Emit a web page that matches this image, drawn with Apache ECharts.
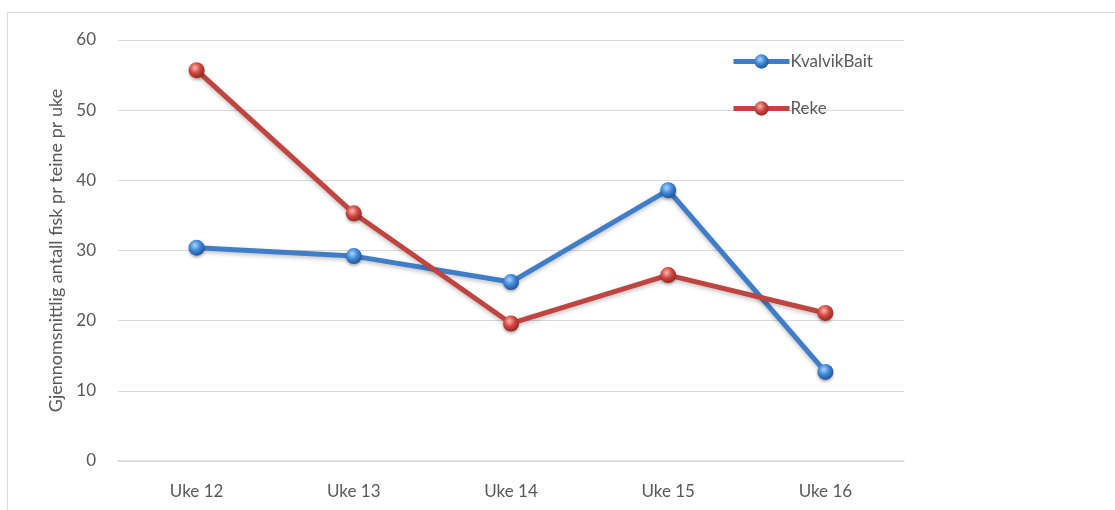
<!DOCTYPE html>
<html>
<head>
<meta charset="utf-8">
<script src="https://cdn.jsdelivr.net/npm/echarts@6/dist/echarts.min.js"></script>
<style>
  html, body { margin: 0; padding: 0; background: #fff; overflow: hidden; }
  #frame { position: absolute; left: 7px; top: 12px; width: 1200px; height: 600px; border: 1px solid #d9d9d9; }
  #chart { position: absolute; left: 0; top: 0; width: 1115px; height: 510px; }
</style>
</head>
<body>
<div id="frame"></div>
<div id="chart"></div>
<script>
var categories = ['Uke 12', 'Uke 13', 'Uke 14', 'Uke 15', 'Uke 16'];
var kvalvikBait = [30.4, 29.2, 25.5, 38.6, 12.7];
var reke = [55.7, 35.3, 19.6, 26.5, 21.1];
var yTicks = [0, 10, 20, 30, 40, 50, 60];

var fontFam = 'Lato, "Open Sans", sans-serif';

function ball(c1, c2, c3) {
    return {
        type: 'radial', x: 0.4, y: 0.35, r: 0.7,
        colorStops: [
            { offset: 0, color: c1 },
            { offset: 0.5, color: c2 },
            { offset: 1, color: c3 }
        ]
    };
}

var chartDom = document.getElementById('chart');
var myChart = echarts.init(chartDom);
var option = {
    animation: false,
    grid: { left: 118, right: 211, top: 40, bottom: 49 },
    legend: {
        orient: 'vertical',
        left: 731,
        top: 53,
        padding: 0,
        itemGap: 30,
        itemWidth: 56,
        itemHeight: 18,
        lineStyle: { width: 5 },
        textStyle: { fontFamily: fontFam, fontSize: 17, color: '#595959', padding: [0, 0, 0, -4] },
        data: ['KvalvikBait', 'Reke']
    },
    xAxis: {
        type: 'category',
        data: categories,
        boundaryGap: true,
        axisLine: { lineStyle: { color: '#d9d9d9', width: 1.5 } },
        axisTick: { show: false },
        axisLabel: { fontFamily: fontFam, fontSize: 17, color: '#595959', margin: 22 }
    },
    yAxis: {
        type: 'value',
        min: yTicks[0],
        max: yTicks[yTicks.length - 1],
        interval: 10,
        name: 'Gjennomsnittlig antall fisk pr teine pr uke',
        nameLocation: 'middle',
        nameGap: 52,
        nameRotate: 90,
        nameTextStyle: { fontFamily: fontFam, fontSize: 18, color: '#595959' },
        axisLine: { show: false },
        axisTick: { show: false },
        axisLabel: { fontFamily: fontFam, fontSize: 17, color: '#595959', margin: 22 },
        splitLine: { lineStyle: { color: '#d9d9d9', width: 1 } }
    },
    series: [
        {
            name: 'KvalvikBait',
            type: 'line',
            data: kvalvikBait,
            symbol: 'circle',
            symbolSize: 16,
            lineStyle: { color: '#3f7dc8', width: 5, shadowColor: 'rgba(0,0,0,0.25)', shadowBlur: 4, shadowOffsetY: 2 },
            itemStyle: { color: ball('#a8d4ff', '#3d85d6', '#1f4f8f'), borderWidth: 0, shadowColor: 'rgba(0,0,0,0.3)', shadowBlur: 3, shadowOffsetY: 2 }
        },
        {
            name: 'Reke',
            type: 'line',
            data: reke,
            symbol: 'circle',
            symbolSize: 16,
            lineStyle: { color: '#c0443f', width: 5, shadowColor: 'rgba(0,0,0,0.25)', shadowBlur: 4, shadowOffsetY: 2 },
            itemStyle: { color: ball('#ffb3ad', '#d0453f', '#8a2420'), borderWidth: 0, shadowColor: 'rgba(0,0,0,0.3)', shadowBlur: 3, shadowOffsetY: 2 }
        }
    ]
};
option && myChart.setOption(option);
</script>
</body>
</html>
